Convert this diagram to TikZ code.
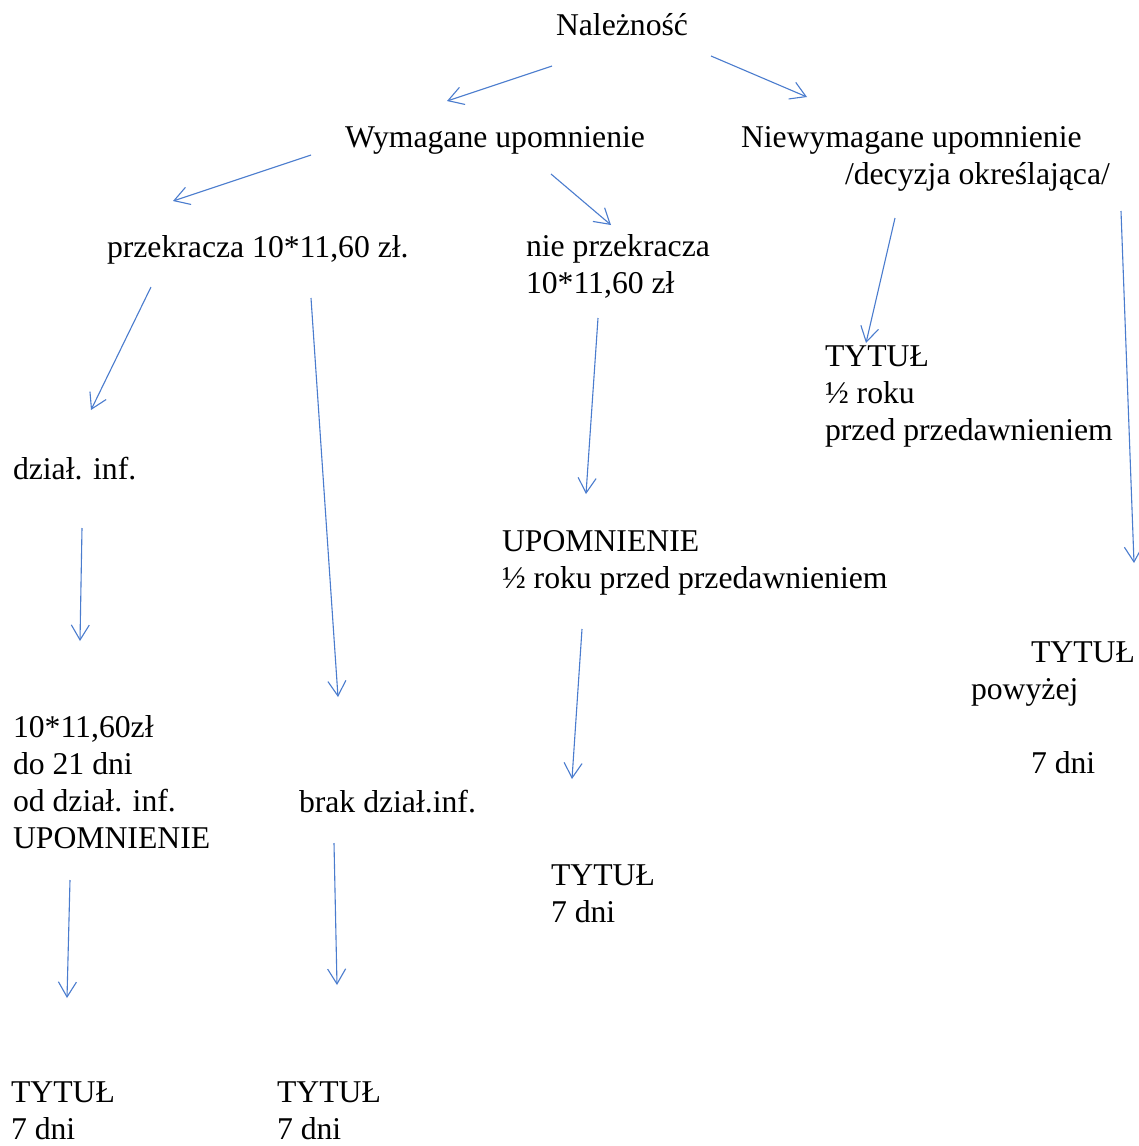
\documentclass[tikz,border=0pt]{standalone}
\usepackage{fontspec}
\setmainfont{Liberation Serif}
\usetikzlibrary{arrows.meta}
\definecolor{penblue}{RGB}{74,124,206}
\tikzset{
  lbl/.style={anchor=base west, inner sep=0pt, outer sep=0pt, align=left,
    font=\fontsize{31.7}{36.8}\selectfont},
  arr/.style={draw=penblue, line width=1.1pt,
    -{Straight Barb[length=15pt,width=18pt,line width=1.1pt]}}
}
\begin{document}
\begin{tikzpicture}[x=1pt,y=-1pt]
\useasboundingbox[fill=white] (0,0) rectangle (1139,1146);

% texts (positioned at the baseline of their last line)
\node[lbl] (root) at (556,35) {Należność};
\node[lbl] (wym) at (345,147) {Wymagane upomnienie};
\node[lbl] (niew) at (741,184) {Niewymagane upomnienie\\\hspace*{104pt}/decyzja określająca/};
\node[lbl] (prz) at (107,257) {przekracza 10*11,60 zł.};
\node[lbl] (nprz) at (526,293) {nie przekracza\\10*11,60 zł};
\node[lbl] (tA) at (825,440) {TYTUŁ\\½ roku\\przed przedawnieniem};
\node[lbl] (dz) at (13,479) {dział. inf.};
\node[lbl] (upo) at (502,588) {UPOMNIENIE\\½ roku przed przedawnieniem};
\node[lbl] (tB) at (971,773) {\hspace*{60pt}TYTUŁ\\powyżej\\\mbox{}\\\hspace*{60pt}7 dni};
\node[lbl] (kw) at (13,848) {10*11,60zł\\do 21 dni\\od dział. inf.\\UPOMNIENIE};
\node[lbl] (brak) at (299,812) {brak dział.inf.};
\node[lbl] (tC) at (551,922) {TYTUŁ\\7 dni};
\node[lbl] (tD) at (11,1139) {TYTUŁ\\7 dni};
\node[lbl] (tE) at (277,1139) {TYTUŁ\\7 dni};

% connector end points
\coordinate (a1s) at (552,66);   \coordinate (a1e) at (447,101);
\coordinate (a2s) at (711,56);   \coordinate (a2e) at (807,97);
\coordinate (a3s) at (311,155);  \coordinate (a3e) at (173,201);
\coordinate (a4s) at (551,174);  \coordinate (a4e) at (611,225);
\coordinate (a5s) at (895,218);  \coordinate (a5e) at (866,343);
\coordinate (a6s) at (1121,211); \coordinate (a6e) at (1134,563);
\coordinate (a7s) at (151,287);  \coordinate (a7e) at (91,410);
\coordinate (a8s) at (311,298);  \coordinate (a8e) at (338,697);
\coordinate (a9s) at (598,318);  \coordinate (a9e) at (586,494);
\coordinate (a10s) at (82,528);  \coordinate (a10e) at (80,641);
\coordinate (a11s) at (582,629); \coordinate (a11e) at (572,779);
\coordinate (a12s) at (70,880);  \coordinate (a12e) at (67,998);
\coordinate (a13s) at (334,843); \coordinate (a13e) at (337,985);

% connectors
\draw[arr] (a1s) -- (a1e);
\draw[arr] (a2s) -- (a2e);
\draw[arr] (a3s) -- (a3e);
\draw[arr] (a4s) -- (a4e);
\draw[arr] (a5s) -- (a5e);
\draw[arr] (a6s) -- (a6e);
\draw[arr] (a7s) -- (a7e);
\draw[arr] (a8s) -- (a8e);
\draw[arr] (a9s) -- (a9e);
\draw[arr] (a10s) -- (a10e);
\draw[arr] (a11s) -- (a11e);
\draw[arr] (a12s) -- (a12e);
\draw[arr] (a13s) -- (a13e);
\end{tikzpicture}
\end{document}
